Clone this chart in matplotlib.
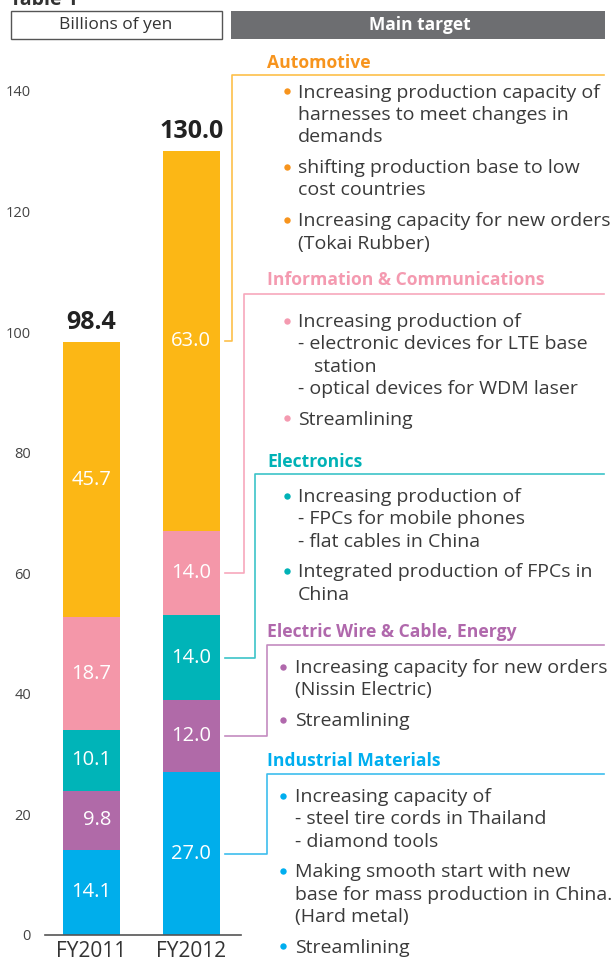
import numpy as np
import matplotlib
matplotlib.use('Agg')
import matplotlib.pyplot as plt
from matplotlib.lines import Line2D
from matplotlib.patches import Rectangle

plt.rcParams['font.family'] = ['Open Sans', 'DejaVu Sans']

# data
years = ['FY2011', 'FY2012']
segments = ['Automotive', 'Information & Communications', 'Electronics',
            'Electric Wire & Cable, Energy', 'Industrial Materials']
fy2011 = [45.7, 18.7, 10.1, 9.8, 14.1]
fy2012 = [63.0, 14.0, 14.0, 12.0, 27.0]
y_ticks = [0, 20, 40, 60, 80, 100, 120, 140]

auto_items = [["Increasing production capacity of", "harnesses to meet changes in", "demands"],
              ["shifting production base to low", "cost countries"],
              ["Increasing capacity for new orders", "(Tokai Rubber)"]]
info_items = [["Increasing production of", "- electronic devices for LTE base", "  station",
               "- optical devices for WDM laser"],
              ["Streamlining"]]
elec_items = [["Increasing production of", "- FPCs for mobile phones", "- flat cables in China"],
              ["Integrated production of FPCs in", "China"]]
wire_items = [["Increasing capacity for new orders", "(Nissin Electric)"],
              ["Streamlining"]]
ind_items = [["Increasing capacity of", "- steel tire cords in Thailand", "- diamond tools"],
             ["Making smooth start with new", "base for mass production in China.", "(Hard metal)"],
             ["Streamlining"]]
items = [auto_items, info_items, elec_items, wire_items, ind_items]

bar_colors = ['#FCB715', '#F497A9', '#00B4B8', '#B06AA8', '#00AEEB']
head_colors = ['#F7941D', '#F49AB0', '#00B2B6', '#B068AC', '#00AEEF']
line_colors = ['#FDC04A', '#F7A8BC', '#3CC3C8', '#C48BC0', '#3DBEEE']
text_col = '#3A3A3A'

W, H = 613, 960
fig = plt.figure(figsize=(W / 100, H / 100), dpi=100)


def fx(px):
    return px / W


def fy(py):
    return 1 - py / H


# bar chart axes
ax = fig.add_axes([fx(45), fy(935), fx(241) - fx(45), fy(91) - fy(935)])
x = np.arange(len(years))
width = 0.57
for col, vals in enumerate([fy2011, fy2012]):
    bottom = 0
    for i in range(len(segments) - 1, -1, -1):
        v = vals[i]
        ax.bar(x[col], v, width, bottom=bottom, color=bar_colors[i], linewidth=0)
        ax.text(x[col] + 0.195, bottom + v / 2, f'{v:.1f}', ha='right', va='center',
                color='white', fontsize=14.5)
        bottom += v
    ax.text(x[col], bottom + 1.2, f'{sum(vals):.1f}', ha='center', va='bottom',
            fontsize=18, fontweight='bold', color='#222222')

ax.set_xlim(-0.465, 1.495)
ax.set_ylim(0, 140)
ax.set_yticks(y_ticks)
ax.set_yticklabels([str(t) for t in y_ticks])
ax.set_xticks(x)
ax.set_xticklabels(years)
ax.tick_params(axis='y', length=0, pad=10, labelsize=10.5, labelcolor='#444444')
ax.tick_params(axis='x', length=0, pad=4, labelsize=15, labelcolor='#333333')
for s in ['top', 'right', 'left']:
    ax.spines[s].set_visible(False)
ax.spines['bottom'].set_color('#555555')
ax.spines['bottom'].set_linewidth(1.2)

# header boxes
fig.text(fx(10), fy(5), 'Table 1', fontsize=14, fontweight='bold', color='#333333',
         va='baseline')
fig.add_artist(Rectangle((fx(10.5), fy(39)), fx(222) - fx(10.5), fy(11) - fy(39),
                         transform=fig.transFigure, facecolor='white',
                         edgecolor='#555555', linewidth=1))
fig.text(fx(116), fy(25), 'Billions of yen', ha='center', va='center', fontsize=12.5,
         color='#333333')
fig.add_artist(Rectangle((fx(231), fy(39)), fx(605) - fx(231), fy(11) - fy(39),
                         transform=fig.transFigure, facecolor='#6D6E71', edgecolor='none'))
fig.text(fx(420), fy(25), 'Main target', ha='center', va='center', fontsize=12.5,
         fontweight='bold', color='white')

# right-hand panel layout: header baseline, rule y, first line baseline, vertical x, bullet x, text x
layout = [(68, 75, 97.7, 232, 287, 298),
          (285, 294, 327, 244, 287, 298),
          (467, 474, 502, 255, 287, 298),
          (637, 645, 673, 267, 283, 295),
          (766, 774, 802, 267, 283, 295)]
line_gap = 22.3
item_gap = 8.5

inv = fig.transFigure.inverted()
mids = []
b = 0
for i in range(len(segments) - 1, -1, -1):
    mids.insert(0, b + fy2012[i] / 2)
    b += fy2012[i]

for k, seg in enumerate(segments):
    hb, ry, first, vx, bx, tx = layout[k]
    fig.text(fx(267), fy(hb), seg, fontsize=12.6, fontweight='bold', color=head_colors[k],
             va='baseline')
    # connector from bar segment to rule
    ymid = inv.transform(ax.transData.transform((x[1], mids[k])))[1]
    xs = [fx(225), fx(vx), fx(vx), fx(604)]
    ys = [ymid, ymid, fy(ry), fy(ry)]
    fig.add_artist(Line2D(xs, ys, transform=fig.transFigure, color=line_colors[k],
                          linewidth=1.2))
    yb = first
    for item in items[k]:
        fig.add_artist(Line2D([fx(bx)], [fy(yb - 6.5)], transform=fig.transFigure,
                              marker='o', markersize=4.6, color=head_colors[k],
                              markeredgewidth=0, linestyle='none'))
        for line in item:
            indent = 16 if line.startswith('  ') else 0
            fig.text(fx(tx + indent), fy(yb), line.strip(), fontsize=14, color=text_col,
                     va='baseline')
            yb += line_gap
        yb += item_gap

fig.savefig('out.png', dpi=100)
